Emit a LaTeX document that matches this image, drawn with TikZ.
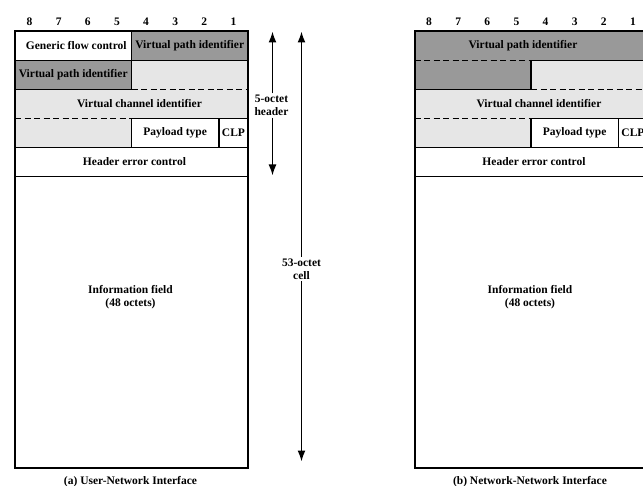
\documentclass[tikz,border=0pt]{standalone}
\usepackage{fontspec}
\setmainfont{Liberation Serif}
\usetikzlibrary{arrows.meta}
\definecolor{darkcell}{RGB}{153,153,153}
\definecolor{lightcell}{RGB}{230,230,230}
\begin{document}
\begin{tikzpicture}[x=1pt,y=-1pt,
  lbl/.style={font=\fontsize{11.5}{13}\selectfont\bfseries, inner sep=0pt, align=center},
  outer/.style={line width=2pt},
  inner/.style={line width=1.6pt},
  dsh/.style={line width=1.6pt, dash pattern=on 6pt off 3.5pt},
  arr/.style={line width=1.6pt, -{Latex[length=11pt,width=8pt]}}]
\useasboundingbox (0,0) rectangle (643,486);
\clip (0,0) rectangle (643,486);
\fill[white] (0,0) rectangle (643,486);

% ---------- (a) left box ----------
\def\xa{15}\def\xb{248}\def\xm{131.5}\def\xc{218.9}
\fill[darkcell] (\xm,31.5) rectangle (\xb,60.5);
\fill[darkcell] (\xa,60.5) rectangle (\xm,89.5);
\fill[lightcell] (\xm,60.5) rectangle (\xb,89.5);
\fill[lightcell] (\xa,89.5) rectangle (\xb,118.5);
\fill[lightcell] (\xa,118.5) rectangle (\xm,147.5);
\draw[inner] (\xa,60.5) -- (\xb,60.5);
\draw[inner] (\xa,89.5) -- (\xm,89.5);
\draw[dsh] (\xm,89.5) -- (\xb,89.5);
\draw[dsh] (\xa,118.5) -- (\xm,118.5);
\draw[inner] (\xm,118.5) -- (\xb,118.5);
\draw[inner] (\xa,147.5) -- (\xb,147.5);
\draw[inner] (\xa,176.5) -- (\xb,176.5);
\draw[inner] (\xm,31.5) -- (\xm,89.5);
\draw[inner] (\xm,118.5) -- (\xm,147.5);
\draw[inner] (\xc,118.5) -- (\xc,147.5);
\draw[outer] (\xa,31.5) rectangle (\xb,468);

\foreach \n [count=\i] in {8,7,6,5,4,3,2,1}
  \node[lbl] (abit\n) at ({\xa+(\i-0.5)*29.125},22) {\n};

\node[lbl] (agfc) at ({(\xa+\xm)/2+3},46) {Generic flow control};
\node[lbl] (avpi1) at ({(\xm+\xb)/2},46) {Virtual path identifier};
\node[lbl] (avpi2) at ({(\xa+\xm)/2},75) {Virtual path identifier};
\node[lbl] (avci) at ({(\xa+\xb)/2+8},104) {Virtual channel identifier};
\node[lbl] (apt) at ({(\xm+\xc)/2},133) {Payload type};
\node[lbl] (aclp) at ({(\xc+\xb)/2},133) {CLP};
\node[lbl] (ahec) at ({(\xa+\xb)/2+3},162) {Header error control};
\node[lbl] (ainfo) at ({(\xa+\xb)/2-1},297.5) {Information field\\(48 octets)};
\node[lbl] (acap) at ({(\xa+\xb)/2-1},482) {(a) User-Network Interface};

% ---------- arrows ----------
\coordinate (h5top) at (272.5,31.5);
\coordinate (h5bot) at (272.5,175.5);
\node[lbl, fill=white, inner sep=1.5pt] (h5) at (271.5,105.5) {5-octet\\header};
\draw[arr] (h5.north -| h5top) -- (h5top);
\draw[arr] (h5.south -| h5bot) -- (h5bot);

\coordinate (c53top) at (301.5,31.5);
\coordinate (c53bot) at (301.5,461.5);
\node[lbl, fill=white, inner sep=1.5pt] (c53) at (301.5,269) {53-octet\\cell};
\draw[arr] (c53) -- (c53top);
\draw[arr] (c53) -- (c53bot);

% ---------- (b) right box ----------
\def\ya{414.5}\def\yb{647.5}\def\ym{531}\def\yc{618.4}
\fill[darkcell] (\ya,31.5) rectangle (\yb,60.5);
\fill[darkcell] (\ya,60.5) rectangle (\ym,89.5);
\fill[lightcell] (\ym,60.5) rectangle (\yb,89.5);
\fill[lightcell] (\ya,89.5) rectangle (\yb,118.5);
\fill[lightcell] (\ya,118.5) rectangle (\ym,147.5);
\draw[dsh] (\ya,60.5) -- (\ym,60.5);
\draw[inner] (\ym,60.5) -- (\yb,60.5);
\draw[inner] (\ya,89.5) -- (\ym,89.5);
\draw[dsh] (\ym,89.5) -- (\yb,89.5);
\draw[dsh] (\ya,118.5) -- (\ym,118.5);
\draw[inner] (\ym,118.5) -- (\yb,118.5);
\draw[inner] (\ya,147.5) -- (\yb,147.5);
\draw[inner] (\ya,176.5) -- (\yb,176.5);
\draw[inner] (\ym,60.5) -- (\ym,89.5);
\draw[inner] (\ym,118.5) -- (\ym,147.5);
\draw[inner] (\yc,118.5) -- (\yc,147.5);
\draw[outer] (\ya,31.5) rectangle (\yb,468);

\foreach \n [count=\i] in {8,7,6,5,4,3,2,1}
  \node[lbl] (bbit\n) at ({\ya+(\i-0.5)*29.125},22) {\n};

\node[lbl] (bvpi) at ({(\ya+\yb)/2-8},46) {Virtual path identifier};
\node[lbl] (bvci) at ({(\ya+\yb)/2+8},104) {Virtual channel identifier};
\node[lbl] (bpt) at ({(\ym+\yc)/2},133) {Payload type};
\node[lbl] (bclp) at ({(\yc+\yb)/2},133) {CLP};
\node[lbl] (bhec) at ({(\ya+\yb)/2+3},162) {Header error control};
\node[lbl] (binfo) at ({(\ya+\yb)/2-1},297.5) {Information field\\(48 octets)};
\node[lbl] (bcap) at ({(\ya+\yb)/2-1},482) {(b) Network-Network Interface};
\end{tikzpicture}
\end{document}
